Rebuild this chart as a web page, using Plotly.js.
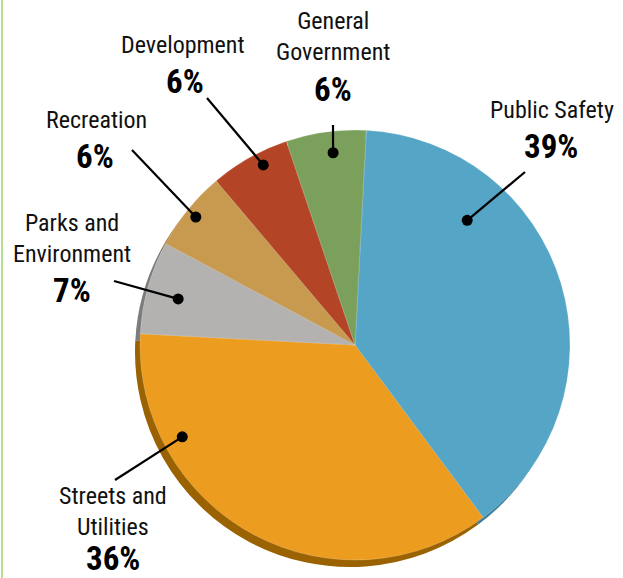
<!DOCTYPE html>
<html>
<head>
<meta charset="utf-8">
<script src="https://cdn.plot.ly/plotly-3.0.1.min.js"></script>
<style>
html,body{margin:0;padding:0;background:#fff;}
#chart{width:623px;height:578px;}
</style>
</head>
<body>
<div id="chart"></div>
<script>
// ---- data ----
var categories = ["Public Safety", "Streets and Utilities", "Parks and Environment", "Recreation", "Development", "General Government"];
var labelText = ["Public Safety", "Streets and<br>Utilities", "Parks and<br>Environment", "Recreation", "Development", "General<br>Government"];
var shares = [39, 36, 7, 6, 6, 6];

// ---- styles ----
var colors = ["#55A5C6", "#EC9C1E", "#B3B2B1", "#C89A50", "#B34526", "#7BA05B"];
var rimColors = ["#3E7E98", "#9A6200", "#7C7C7C", "#8F6A30", "#7A2E18", "#557040"];

var W = 623, H = 578;
var cx = 355, cy = 345, R = 215;       // pie center / radius in px
var rimDx = -5, rimDy = 7;             // 3D rim offset in px

function px2x(p) { return p / W; }
function px2y(p) { return 1 - p / H; }

var mainDomain = { x: [px2x(cx - R), px2x(cx + R)], y: [px2y(cy + R), px2y(cy - R)] };
var rimDomain = { x: [px2x(cx - R + rimDx), px2x(cx + R + rimDx)], y: [px2y(cy + R + rimDy), px2y(cy - R + rimDy)] };

var common = {
  type: "pie",
  labels: categories,
  values: shares,
  sort: false,
  direction: "clockwise",
  rotation: 3,
  textinfo: "none",
  hoverinfo: "none",
  showlegend: false
};

var rim = Object.assign({}, common, { domain: rimDomain, marker: { colors: rimColors, line: { width: 0 } } });
var main = Object.assign({}, common, { domain: mainDomain, marker: { colors: colors, line: { width: 0.6, color: "rgba(255,255,255,0.35)" } } });

// label placement (layout only): dot angle (deg clockwise from 12), dot radius fraction,
// leader tail px, name center px, percent center px
var place = [
  { a: 42,    f: 0.78, tail: [525, 172], name: [552, 110], pct: [551, 146] },
  { a: 242,   f: 0.91, tail: [115, 480], name: [113, 511], pct: [113, 558] },
  { a: 284.6, f: 0.85, tail: [114, 281], name: [72, 238],  pct: [72, 290] },
  { a: 308.8, f: 0.95, tail: [132, 150], name: [96, 120],  pct: [95, 156] },
  { a: 333,   f: 0.94, tail: [207, 98],  name: [183, 45],  pct: [185, 81] },
  { a: 353.5, f: 0.90, tail: [333, 125], name: [333, 37],  pct: [333, 89] }
];

var fontFam = "'Liberation Sans Narrow', 'Roboto Condensed', 'DejaVu Sans Condensed', 'Arial Narrow', sans-serif";
var shapes = [
  { type: "line", xref: "paper", yref: "paper", x0: px2x(2), x1: px2x(2), y0: 0, y1: 1, line: { color: "#B8DF94", width: 2 } }
];
var annotations = [];
var total = shares.reduce(function (s, v) { return s + v; }, 0);

for (var i = 0; i < categories.length; i++) {
  var p = place[i];
  var rad = p.a * Math.PI / 180;
  var dx = cx + p.f * R * Math.sin(rad);
  var dy = cy - p.f * R * Math.cos(rad);
  shapes.push({ type: "line", xref: "paper", yref: "paper",
    x0: px2x(p.tail[0]), y0: px2y(p.tail[1]), x1: px2x(dx), y1: px2y(dy),
    line: { color: "#000", width: 2.2 } });
  shapes.push({ type: "circle", xref: "paper", yref: "paper", xsizemode: "pixel", ysizemode: "pixel",
    xanchor: px2x(dx), yanchor: px2y(dy), x0: -5.5, x1: 5.5, y0: -5.5, y1: 5.5,
    fillcolor: "#000", line: { width: 0 } });
  annotations.push({ xref: "paper", yref: "paper", x: px2x(p.name[0]), y: px2y(p.name[1]),
    xanchor: "center", yanchor: "middle", showarrow: false, text: labelText[i],
    font: { family: fontFam, size: 24, color: "#111" } });
  annotations.push({ xref: "paper", yref: "paper", x: px2x(p.pct[0]), y: px2y(p.pct[1]),
    xanchor: "center", yanchor: "middle", showarrow: false,
    text: "<b>" + Math.round(shares[i] / total * 100) + "%</b>",
    font: { family: fontFam, size: 33, color: "#000" } });
}

var layout = {
  width: W, height: H,
  margin: { l: 0, r: 0, t: 0, b: 0 },
  paper_bgcolor: "#fff",
  showlegend: false,
  shapes: shapes,
  annotations: annotations
};

Plotly.newPlot("chart", [rim, main], layout, { staticPlot: true, displayModeBar: false });
</script>
</body>
</html>
